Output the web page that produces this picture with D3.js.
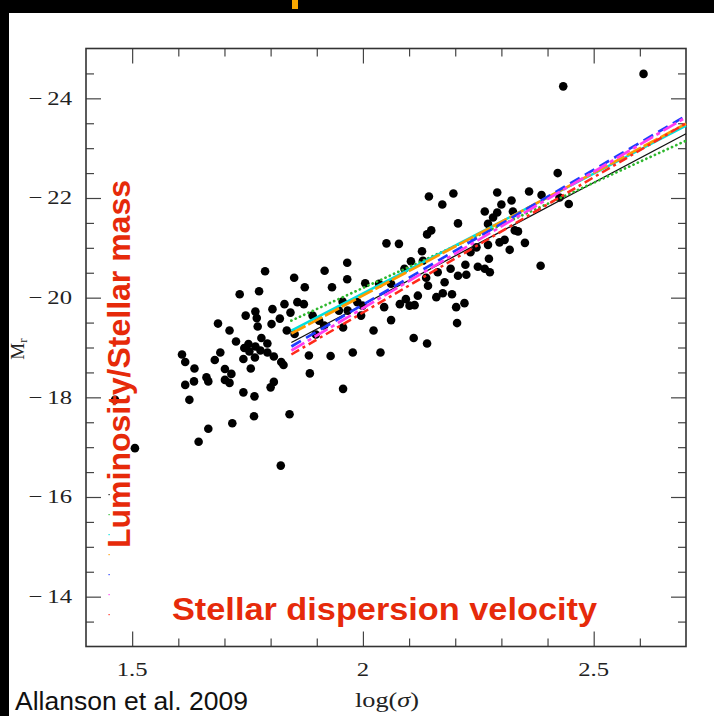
<!DOCTYPE html>
<html><head><meta charset="utf-8">
<script src="https://cdn.jsdelivr.net/npm/d3@7"></script>
<style>html,body{margin:0;padding:0;background:#fff;}svg{display:block;}</style>
</head><body>
<script>
// ---- data ----
const logSigma = [
1.788,1.851,1.874,1.733,1.775,1.830,1.858,1.872,1.804,1.767,1.746,1.770,1.843,1.820,1.802,1.686,1.772,1.711,1.835,1.852,
1.780,1.793,1.725,1.752,1.743,1.767,1.778,1.793,1.691,1.754,1.741,1.766,1.807,1.823,1.828,1.608,1.615,1.679,1.635,1.757,
1.701,1.715,1.661,1.665,1.634,1.615,1.701,1.711,1.807,1.800,1.741,1.765,1.624,1.764,1.841,1.717,1.665,1.644,1.506,1.822,
1.883,1.885,1.463,
1.966,1.917,1.966,1.933,2.005,2.035,2.061,2.143,2.196,2.172,2.206,2.148,2.139,2.051,2.078,2.128,2.104,2.130,2.090,2.137,
2.141,2.162,2.177,2.190,2.206,2.224,1.956,1.988,1.999,1.891,1.905,1.916,1.948,1.967,1.996,2.046,2.061,2.080,2.093,2.101,
2.112,2.119,2.159,2.173,2.193,2.202,2.204,1.898,1.957,2.023,2.110,2.139,1.930,1.978,2.038,1.957,
2.422,2.291,2.360,2.387,2.322,2.300,2.446,2.264,2.291,2.325,2.282,2.271,2.329,2.336,2.307,2.296,2.351,2.246,2.271,2.233,
2.318,2.273,2.222,2.249,2.264,2.275,2.385,2.220,
2.608,2.434,2.426];
const Mr = [
-20.53,-20.40,-20.21,-20.07,-20.13,-19.87,-19.91,-19.87,-19.77,-19.72,-19.64,-19.59,-19.70,-19.58,-19.47,-19.48,-19.42,-19.34,-19.34,-19.27,
-19.19,-19.08,-19.12,-19.07,-18.99,-19.02,-18.94,-18.90,-18.90,-18.92,-18.77,-18.80,-18.82,-18.71,-18.65,-18.86,-18.71,-18.75,-18.58,-18.58,
-18.57,-18.47,-18.40,-18.32,-18.32,-18.25,-18.35,-18.29,-18.31,-18.20,-18.10,-18.02,-17.95,-17.62,-17.66,-17.48,-17.37,-17.11,-16.98,-16.63,
-18.84,-18.48,-17.95,
-20.70,-20.54,-20.37,-20.21,-20.29,-20.28,-20.28,-22.03,-22.09,-21.87,-21.49,-21.35,-21.27,-21.09,-21.08,-20.93,-20.73,-20.74,-20.58,-20.40,
-20.24,-20.51,-20.31,-20.58,-20.44,-20.46,-19.92,-19.91,-19.84,-19.64,-19.54,-19.44,-19.74,-19.74,-19.64,-19.81,-19.55,-19.87,-19.97,-19.84,
-19.85,-20.04,-20.01,-20.09,-20.07,-19.81,-19.49,-19.26,-19.40,-19.34,-19.19,-19.08,-18.83,-18.90,-18.90,-18.17,
-22.50,-22.11,-22.13,-22.06,-21.95,-21.87,-21.88,-21.73,-21.71,-21.73,-21.61,-21.48,-21.35,-21.33,-21.16,-21.11,-21.10,-21.01,-21.06,-20.91,
-20.96,-20.78,-20.66,-20.62,-20.58,-20.51,-20.64,-19.89,
-24.49,-24.24,-22.01];

// fitted relations: value of M_r at the two ends of the fitted range
const fitRange = [1.845, 2.7];
const fitStart = [-19.10, -19.54, -19.34, -19.28, -19.02, -18.94, -18.86];
const fitEnd   = [-23.29, -23.15, -23.45, -23.49, -23.65, -23.62, -23.50];
const fitColors = ["#111111", "#2eb82e", "#00e0e0", "#ff9a00", "#1f3dff", "#ff3cf0", "#ff2a1a"];
const fitDash   = ["none", "0.1,4.6", "none", "16,3", "11,6", "15,4,4,4", "9,4,3,4"];
const fitWidth  = [1.3, 2.7, 2.5, 2.7, 2.7, 2.7, 2.5];

const xMajor = [1.5, 2, 2.5];
const xMinor = [1.6, 1.7, 1.8, 1.9, 2.1, 2.2, 2.3, 2.4, 2.6];
const yMajor = [-24, -22, -20, -18, -16, -14];
const yMinor = [-24.5, -23.5, -23, -22.5, -21.5, -21, -20.5, -19.5, -19, -18.5, -17.5, -17, -16.5, -15.5, -15, -14.5, -13.5];

// ---- drawing ----
const W = 714, H = 716;
const svg = d3.select("body").append("svg").attr("width", W).attr("height", H);
svg.append("rect").attr("width", W).attr("height", H).attr("fill", "#fff");
// slide remnants
svg.append("rect").attr("x", 0).attr("y", 0).attr("width", W).attr("height", 13).attr("fill", "#000");
svg.append("rect").attr("x", 0).attr("y", 0).attr("width", 9).attr("height", H).attr("fill", "#000");
svg.append("rect").attr("x", 292).attr("y", 0).attr("width", 6).attr("height", 9).attr("fill", "#f7a600");

const L = 86, R = 686, T = 48.5, B = 646.5;
const x = d3.scaleLinear().domain([1.4, 2.7]).range([L, R]);
const y = d3.scaleLinear().domain([-25, -13]).range([T, B]);

const serif = "'Liberation Serif', 'DejaVu Serif', serif";
const tickFont = 19, stretch = 1.3;
const fmtY = d => "\u2212\u2009" + Math.abs(d);
const fmtX = d => String(d);

function styleAxis(g) {
  g.select(".domain").remove();
  g.selectAll(".tick line").attr("stroke", "#444").attr("stroke-width", 1.2);
  g.selectAll(".tick text").remove();
}
// left
svg.append("g").attr("transform", `translate(${L},0)`)
  .call(d3.axisLeft(y).tickValues(yMajor).tickSize(-15)).call(styleAxis);
svg.append("g").attr("transform", `translate(${L},0)`)
  .call(d3.axisLeft(y).tickValues(yMinor).tickSize(-8)).call(styleAxis);
// right
svg.append("g").attr("transform", `translate(${R},0)`)
  .call(d3.axisRight(y).tickValues(yMajor).tickSize(-15)).call(styleAxis);
svg.append("g").attr("transform", `translate(${R},0)`)
  .call(d3.axisRight(y).tickValues(yMinor).tickSize(-8)).call(styleAxis);
// bottom
svg.append("g").attr("transform", `translate(0,${B})`)
  .call(d3.axisBottom(x).tickValues(xMajor).tickSize(-15)).call(styleAxis);
svg.append("g").attr("transform", `translate(0,${B})`)
  .call(d3.axisBottom(x).tickValues(xMinor).tickSize(-8)).call(styleAxis);
// top
svg.append("g").attr("transform", `translate(0,${T})`)
  .call(d3.axisTop(x).tickValues(xMajor).tickSize(-15)).call(styleAxis);
svg.append("g").attr("transform", `translate(0,${T})`)
  .call(d3.axisTop(x).tickValues(xMinor).tickSize(-8)).call(styleAxis);

// tick labels (horizontally stretched serif, like the reference)
svg.append("g").selectAll("g").data(yMajor).join("g")
  .attr("transform", d => `translate(72,${y(d)})`)
  .append("text").attr("transform", `scale(${stretch},1)`).attr("text-anchor", "end").attr("dy", "0.34em")
  .attr("font-family", serif).attr("font-size", tickFont).attr("fill", "#222").text(fmtY);
svg.append("g").selectAll("g").data(xMajor).join("g")
  .attr("transform", d => `translate(${x(d)},676)`)
  .append("text").attr("transform", `scale(${stretch},1)`).attr("text-anchor", "middle")
  .attr("font-family", serif).attr("font-size", tickFont).attr("fill", "#222").text(fmtX);

// frame
svg.append("rect").attr("x", L).attr("y", T).attr("width", R - L).attr("height", B - T)
  .attr("fill", "none").attr("stroke", "#333").attr("stroke-width", 1.6);

// points
const pts = logSigma.map((s, i) => ({s, m: Mr[i]}));
svg.append("g").selectAll("circle").data(pts).join("circle")
  .attr("cx", d => x(d.s)).attr("cy", d => y(d.m)).attr("r", 4.3).attr("fill", "#000");

// fit lines
const fits = fitStart.map((a, i) => ({a, b: fitEnd[i], c: fitColors[i], dash: fitDash[i], w: fitWidth[i]}));
const line = d3.line().x(d => x(d[0])).y(d => y(d[1]));
svg.append("g").selectAll("path").data(fits).join("path")
  .attr("d", d => line([[fitRange[0], d.a], [fitRange[1], d.b]]))
  .attr("fill", "none").attr("stroke", d => d.c).attr("stroke-width", d => d.w)
  .attr("stroke-dasharray", d => d.dash).attr("stroke-linecap", d => d.dash.startsWith("0.1") ? "round" : "butt");

// tiny legend remnants
svg.append("g").selectAll("rect").data(fitColors).join("rect")
  .attr("x", 108.5).attr("y", (d, i) => 494 + i * 20).attr("width", 1.2).attr("height", 1.2).attr("fill", d => d);

// axis titles
const mt = svg.append("text").attr("transform", "translate(24,349) rotate(-90)")
  .attr("font-family", serif).attr("font-size", 19).attr("fill", "#222").attr("text-anchor", "middle");
mt.append("tspan").text("M");
mt.append("tspan").attr("font-size", 13).attr("dy", 3).text("r");

const lt = svg.append("g").attr("transform", "translate(355,707)")
  .append("text").attr("transform", "scale(1.25,1)")
  .attr("font-family", serif).attr("font-size", 21).attr("fill", "#222");
lt.append("tspan").text("log(");
lt.append("tspan").attr("font-style", "italic").text("σ");
lt.append("tspan").text(")");

// slide annotations
const red = "#e62a0a";
svg.append("text").attr("transform", "translate(130,548) rotate(-90)")
  .attr("font-family", "'Liberation Sans', Arial, sans-serif").attr("font-weight", "bold")
  .attr("font-size", 31).attr("fill", red)
  .attr("textLength", 368).attr("lengthAdjust", "spacingAndGlyphs")
  .text("Luminosity/Stellar mass");
svg.append("text").attr("x", 172).attr("y", 620)
  .attr("font-family", "'Liberation Sans', Arial, sans-serif").attr("font-weight", "bold")
  .attr("font-size", 31).attr("fill", red)
  .attr("textLength", 425).attr("lengthAdjust", "spacingAndGlyphs")
  .text("Stellar dispersion velocity");
svg.append("text").attr("x", 15).attr("y", 710)
  .attr("font-family", "'Liberation Sans', Arial, sans-serif")
  .attr("font-size", 25).attr("fill", "#111")
  .attr("textLength", 233).attr("lengthAdjust", "spacingAndGlyphs")
  .text("Allanson et al. 2009");
</script>
</body></html>
